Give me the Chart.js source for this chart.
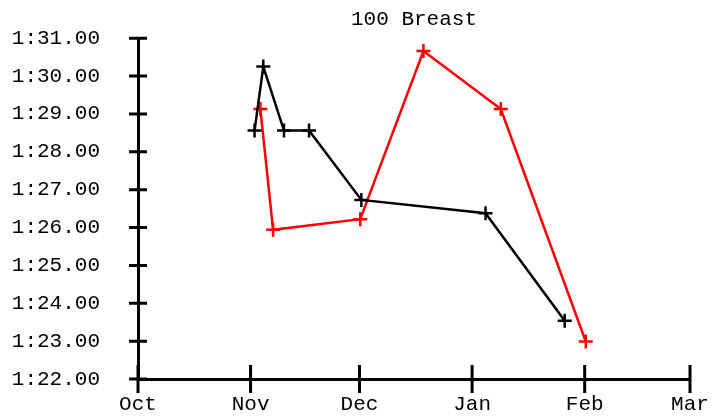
<!DOCTYPE html>
<html>
<head>
<meta charset="utf-8">
<script src="https://cdn.jsdelivr.net/npm/chart.js@4/dist/chart.umd.min.js"></script>
<style>
  html, body { margin: 0; padding: 0; background: #fff; }
  #wrap { width: 727px; height: 416px; position: relative; }
</style>
</head>
<body>
<div id="wrap"><canvas id="chart"></canvas></div>
<script>
// Month ticks, as days after Oct 1 (Feb has 29 days)
const months = ["Oct", "Nov", "Dec", "Jan", "Feb", "Mar"];
const monthDays = [0, 31, 61, 92, 123, 152];

// Swim times in seconds, dates as days after Oct 1
const blackDays = [32.1, 34.5, 40.2, 47.1, 61.5, 95.7, 117.5];
const blackTimes = [88.56, 90.25, 88.56, 88.56, 86.73, 86.38, 83.54];
const redDays = [33.7, 37.2, 61.2, 78.6, 99.9, 123.3];
const redTimes = [89.13, 85.94, 86.22, 90.66, 89.13, 82.99];

const FONT = "'Liberation Mono', 'Courier New', monospace";

function fmtTime(v) {
  const m = Math.floor(v / 60);
  const s = v - m * 60;
  return m + ":" + s.toFixed(2).padStart(5, "0");
}

function toPoints(days, times) {
  return days.map((d, i) => ({ x: d, y: times[i] }));
}

// Tick marks crossing the axis lines
const tickMarks = {
  id: "tickMarks",
  beforeDatasetsDraw(chart) {
    const { ctx, scales: { x, y } } = chart;
    ctx.save();
    ctx.strokeStyle = "#000";
    ctx.lineWidth = 3;
    ctx.beginPath();
    y.ticks.forEach((t) => {
      const py = y.getPixelForValue(t.value);
      ctx.moveTo(x.left - 9, py);
      ctx.lineTo(x.left + 9, py);
    });
    x.ticks.forEach((t) => {
      const px = x.getPixelForValue(t.value);
      ctx.moveTo(px, y.bottom - 14);
      ctx.lineTo(px, y.bottom + 14);
    });
    ctx.stroke();
    ctx.restore();
  },
};

new Chart(document.getElementById("chart"), {
  type: "line",
  data: {
    datasets: [
      {
        data: toPoints(blackDays, blackTimes),
        borderColor: "#000",
        backgroundColor: "#000",
        borderWidth: 2.5,
        pointStyle: "cross",
        pointRadius: 7,
        pointBorderWidth: 2.5,
        tension: 0,
      },
      {
        data: toPoints(redDays, redTimes),
        borderColor: "#ff0000",
        backgroundColor: "#ff0000",
        borderWidth: 2.5,
        pointStyle: "cross",
        pointRadius: 7,
        pointBorderWidth: 2.5,
        tension: 0,
      },
    ],
  },
  options: {
    responsive: true,
    maintainAspectRatio: false,
    animation: false,
    layout: { padding: { top: 0, right: 37, bottom: 0, left: 0 } },
    plugins: {
      legend: { display: false },
      tooltip: { enabled: false },
      title: {
        display: true,
        text: "100 Breast",
        fullSize: false,
        color: "#000",
        font: { family: FONT, size: 21, weight: "normal", lineHeight: 1.2 },
        padding: { top: 7, bottom: 6 },
      },
    },
    scales: {
      x: {
        type: "linear",
        min: 0,
        max: 152,
        grid: { display: false, drawTicks: false },
        border: { display: true, color: "#000", width: 3 },
        afterBuildTicks: (scale) => {
          scale.ticks = monthDays.map((v) => ({ value: v }));
        },
        afterFit: (scale) => {
          scale.height = 37;
          scale.paddingLeft = 0;
          scale.paddingRight = 0;
        },
        ticks: {
          color: "#000",
          padding: 13,
          maxRotation: 0,
          autoSkip: false,
          font: { family: FONT, size: 21 },
          callback: (v) => months[monthDays.indexOf(v)],
        },
      },
      y: {
        type: "linear",
        min: 82,
        max: 91,
        grid: { display: false, drawTicks: false },
        border: { display: true, color: "#000", width: 3 },
        afterFit: (scale) => {
          scale.width = 138;
          scale.paddingTop = 0;
          scale.paddingBottom = 0;
        },
        ticks: {
          color: "#000",
          stepSize: 1,
          padding: 38,
          font: { family: FONT, size: 21 },
          callback: (v) => fmtTime(v),
        },
      },
    },
  },
  plugins: [tickMarks],
});
</script>
</body>
</html>
